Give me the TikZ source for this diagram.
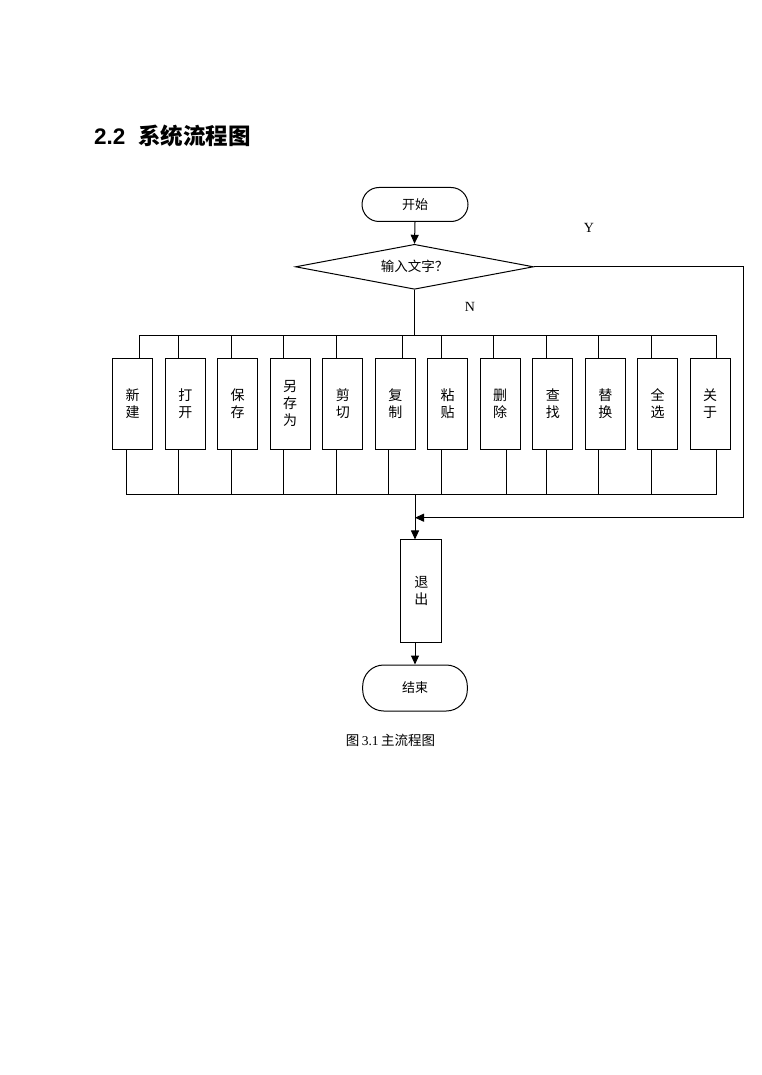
\documentclass[tikz,border=0pt]{standalone}
\usepackage{fontspec}
\setmainfont{Liberation Serif}
\newfontfamily\cjk{Noto Sans CJK SC}
\newfontfamily\titlesans{Liberation Sans}
\usetikzlibrary{shapes.geometric,arrows.meta}
\tikzset{
  conn/.style={line width=1pt, draw=black},
  arr/.style={conn, -{Triangle[length=9pt,width=8pt]}},
  term/.style={draw, line width=1pt, rounded corners=17pt, minimum width=106pt, minimum height=34pt, inner sep=0pt, font=\cjk\fontsize{13}{15}\selectfont},
  decide/.style={draw, line width=1pt, diamond, shape aspect=5.3, minimum width=238pt, minimum height=45pt, inner sep=0pt, font=\cjk\fontsize{13.5}{15}\selectfont},
  fbox/.style={draw, line width=1pt, minimum width=40pt, minimum height=91pt, inner sep=0pt, align=center, font=\cjk\fontsize{14}{17}\selectfont},
  lbl/.style={font=\fontsize{14}{16}\selectfont, inner sep=0pt},
}
\begin{document}
\begin{tikzpicture}[x=1pt,y=-1pt]
\fill[white] (0,0) rectangle (761,1075);
\useasboundingbox (0,0) rectangle (761,1075);

% title
\node[anchor=west, inner sep=0pt] (title) at (94,136)
  {{\titlesans\bfseries\fontsize{22.5}{26}\selectfont 2.2}\hspace{13pt}{\cjk\bfseries\fontsize{22.5}{26}\selectfont 系统流程图}};

% start
\node[term] (start) at (415,204.5) {开始};
% decision
\node[decide] (dia) at (414.5,266.8) {输入文字？};
\draw[arr] (start.south) -- (dia.north);

% labels
\node[lbl] (ylab) at (589,228) {Y};
\node[lbl] (nlab) at (470,307) {N};

% function boxes
\foreach \i/\cx/\t/\tb/\bb in {
  1/132.7/{新\\建}/139.3/126,
  2/185.3/{打\\开}/178.7/178.7,
  3/237.7/{保\\存}/231/231,
  4/290.2/{另\\存\\为}/283.3/283.3,
  5/342.8/{剪\\切}/336/336,
  6/395.3/{复\\制}/402/388.7,
  7/447.5/{粘\\贴}/441/441,
  8/500.2/{删\\除}/493.3/506.7,
  9/552.8/{查\\找}/546/546,
  10/605.3/{替\\换}/598.7/598.7,
  11/657.7/{全\\选}/651.3/651.3,
  12/710.2/{关\\于}/716.7/716.7}{
  \node[fbox] (b\i) at (\cx,403.8) {\t};
  \coordinate (t\i) at (\tb,335.5);
  \coordinate (u\i) at (\bb,494.3);
  \draw[conn] (t\i) -- (t\i |- b\i.north);
  \draw[conn] (u\i |- b\i.south) -- (u\i);
}
\draw[conn] (t1) -- (t12);
\draw[conn] (u1) -- (u12);
\draw[conn] (dia.south) -- (dia.south |- t1);

% exit
\node[fbox, minimum height=102.7pt, minimum width=40.7pt] (exit) at (421.3,591.3) {退\\出};
\coordinate (j) at (415,494.3);
\draw[arr] (j) -- (j |- exit.north);

% end
\node[term, minimum height=46pt, minimum width=104.6pt, rounded corners=21pt] (end) at (415,688) {结束};
\draw[arr] (j |- exit.south) -- (j |- end.north);

% Y loop
\coordinate (rc) at (743.3,517.7);
\coordinate (yend) at (415,517.7);
\draw[arr] (dia.east) -| (rc) -- (yend);

% caption
\node[inner sep=0pt] (cap) at (390.5,740.5)
  {{\cjk\fontsize{13.5}{15}\selectfont 图} {\fontsize{13.5}{15}\selectfont 3.1} {\cjk\fontsize{13.5}{15}\selectfont 主流程图}};
\end{tikzpicture}
\end{document}
